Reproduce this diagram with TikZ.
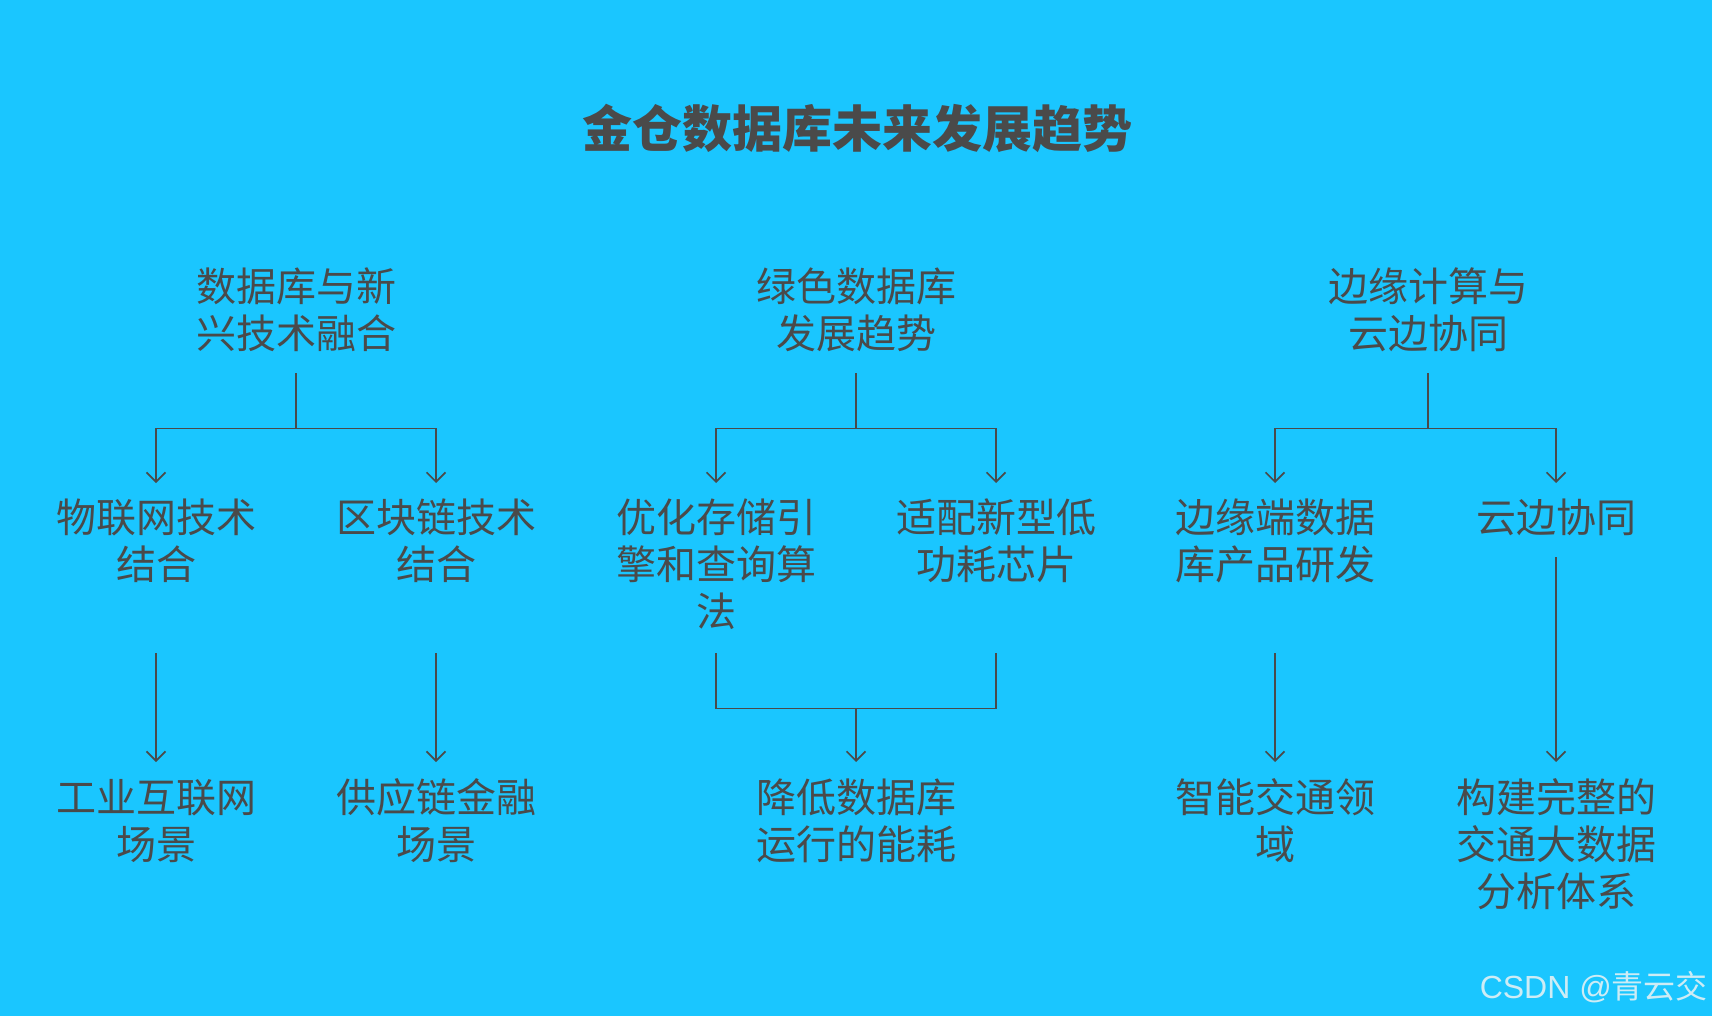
\documentclass[tikz,border=0pt]{standalone}
\usepackage{fontspec}
\setmainfont{Noto Sans CJK SC}
\newfontfamily\wmfont{Liberation Sans}
\usetikzlibrary{arrows.meta}
\definecolor{bgblue}{RGB}{26,198,255}
\definecolor{inkgray}{RGB}{74,74,74}
\definecolor{wmwhite}{RGB}{205,236,245}

\begin{document}
\begin{tikzpicture}[
    x=1pt,y=-1pt,
    line/.style={line width=1.7pt, inkgray},
    link/.style={line, -{Straight Barb[length=9.5pt,width=19pt]}},
    box/.style={text=inkgray, font=\fontsize{40}{47}\selectfont, align=center,
      text width=230pt, inner xsep=0pt, text height=35.2pt},
    topic/.style={box, anchor=north, inner ysep=14pt, text depth=57.8pt},
    sub/.style={box, anchor=north, inner ysep=14pt, text depth=106.8pt},
    leaf/.style={box, anchor=north, inner ysep=15pt}
    ]
    \fill[bgblue] (0, 0) rectangle (1712, 1016);
    \useasboundingbox (0, 0) rectangle (1712, 1016);
    \node[text=inkgray, font=\fontsize{50}{56}\bfseries] (title) at (857, 128) {金仓数据库未来发展趋势};
    % first level
    \node[topic] (A) at (296, 252) {数据库与新\\兴技术融合};
    \node[topic] (B) at (856, 252) {绿色数据库\\发展趋势};
    \node[topic] (C) at (1428, 252) {边缘计算与\\云边协同};
    % second level
    \node[sub] (A1) at (156, 483) {物联网技术\\结合};
    \node[sub] (A2) at (436, 483) {区块链技术\\结合};
    \node[sub] (B1) at (716, 483) {优化存储引\\擎和查询算\\法};
    \node[sub] (B2) at (996, 483) {适配新型低\\功耗芯片};
    \node[sub] (C1) at (1275, 483) {边缘端数据\\库产品研发};
    \node[sub, text depth=10.8pt] (C2) at (1556, 483) {云边协同};
    % third level
    \node[leaf] (A1a) at (156, 762) {工业互联网\\场景};
    \node[leaf] (A2a) at (436, 762) {供应链金融\\场景};
    \node[leaf] (Ba) at (856, 762) {降低数据库\\运行的能耗};
    \node[leaf] (C1a) at (1275, 762) {智能交通领\\域};
    \node[leaf] (C2a) at (1556, 762) {构建完整的\\交通大数据\\分析体系};
    % connectors
    \draw[link] (A.south) -- ++(0, 55) -| (A1.north);
    \draw[link] (A.south) -- ++(0, 55) -| (A2.north);
    \draw[link] (B.south) -- ++(0, 55) -| (B1.north);
    \draw[link] (B.south) -- ++(0, 55) -| (B2.north);
    \draw[link] (C.south) -- ++(0, 55) -| (C1.north);
    \draw[link] (C.south) -- ++(0, 55) -| (C2.north);
    \draw[link] (A1.south) -- (A1a.north);
    \draw[link] (A2.south) -- (A2a.north);
    \draw[line] (B1.south) -- ++(0, 55) -| (B2.south);
    \draw[link] (Ba.north |- B1.south) ++(0, 55) -- (Ba.north);
    \draw[link] (C1.south) -- (C1a.north);
    \draw[link] (C2.south) -- (C2a.north);
    \node[anchor=east, text=wmwhite, font=\fontsize{32}{36}\selectfont, inner sep=0pt] (mark) at (1708, 987) {{\wmfont CSDN @}青云交};
  \end{tikzpicture}
\end{document}
